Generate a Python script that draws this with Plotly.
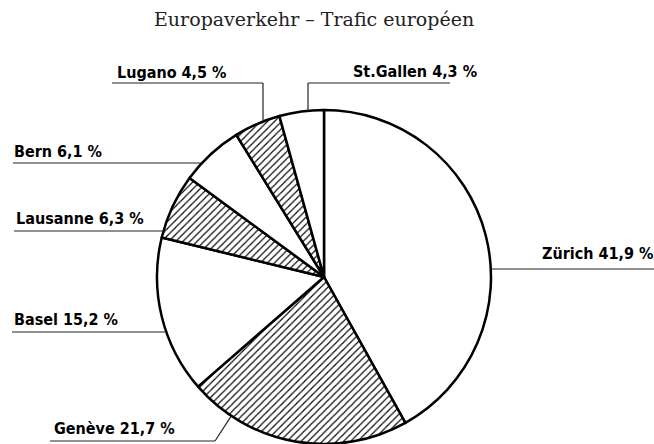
import math
import plotly.graph_objects as go

# ---- data ----
cities = ["Zürich", "Genève", "Basel", "Lausanne", "Bern", "Lugano", "St.Gallen"]
shares = [41.9, 21.7, 15.2, 6.3, 6.1, 4.5, 4.3]
label_texts = ["Zürich 41,9 %", "Genève 21,7 %", "Basel 15,2 %", "Lausanne 6,3 %",
               "Bern 6,1 %", "Lugano 4,5 %", "St.Gallen 4,3 %"]
hatched = [False, True, False, True, False, True, False]
title_text = "Europaverkehr – Trafic européen"

# ---- layout geometry (pixels) ----
W, H = 654, 444
CX, CY, R = 324, 277, 167

def px(x):
    return x / W

def py(y):
    return (H - y) / H

fig = go.Figure(go.Pie(
    labels=cities,
    values=shares,
    sort=False,
    direction="clockwise",
    rotation=0,
    textinfo="none",
    hoverinfo="label+percent",
    showlegend=False,
    domain=dict(x=[px(CX - R), px(CX + R)], y=[py(CY + R), py(CY - R)]),
    marker=dict(
        colors=["white"] * len(cities),
        line=dict(color="black", width=2.5),
        pattern=dict(
            shape=["/" if h else "" for h in hatched],
            fgcolor="black",
            bgcolor="white",
            size=5,
            solidity=0.22,
        ),
    ),
))

shapes = []
annotations = []
label_font = dict(family="DejaVu Sans Condensed, Roboto, sans-serif", size=16,
                  color="black", weight="bold")
line_style = dict(color="#222", width=1.2)

def seg(x0, y0, x1, y1):
    shapes.append(dict(type="line", xref="paper", yref="paper",
                       x0=px(x0), y0=py(y0), x1=px(x1), y1=py(y1), line=line_style))

def label(text, x, y):
    annotations.append(dict(text=text, x=px(x), y=py(y), xref="paper", yref="paper",
                            xanchor="left", yanchor="middle", showarrow=False, font=label_font))

def arc_x(y, side):
    return CX + side * math.sqrt(R * R - (y - CY) ** 2)

def arc_y_top(x):
    return CY - math.sqrt(R * R - (x - CX) ** 2)

# Zürich
label(label_texts[0], 540, 253)
seg(arc_x(269, 1), 269, W, 269)
# Genève
label(label_texts[1], 52, 428)
ang = math.radians(213.7)
gx, gy = CX + R * math.sin(ang), CY - R * math.cos(ang)
seg(50, 441, 215, 441)
seg(215, 441, gx, gy)
# Basel
label(label_texts[2], 12, 319)
seg(12, 332, arc_x(332, -1), 332)
# Lausanne
label(label_texts[3], 14, 218)
seg(14, 231, arc_x(231, -1), 231)
# Bern
label(label_texts[4], 12, 152)
seg(13, 163, arc_x(163, -1), 163)
# Lugano
label(label_texts[5], 115, 72)
seg(112, 83, 263, 83)
seg(263, 83, 263, arc_y_top(263))
# St.Gallen
label(label_texts[6], 351, 71)
seg(308, 83, 450, 83)
seg(308, 83, 308, arc_y_top(308))

annotations.append(dict(text=title_text, x=px(314), y=py(19), xref="paper", yref="paper",
                        xanchor="center", yanchor="middle", showarrow=False,
                        font=dict(family="DejaVu Serif", size=19, color="#222")))

fig.update_layout(
    width=W, height=H,
    margin=dict(l=0, r=0, t=0, b=0),
    paper_bgcolor="white",
    plot_bgcolor="white",
    shapes=shapes,
    annotations=annotations,
)

fig.write_html("out.html", config={"displayModeBar": False},
               post_script="document.body.style.margin='0';")
